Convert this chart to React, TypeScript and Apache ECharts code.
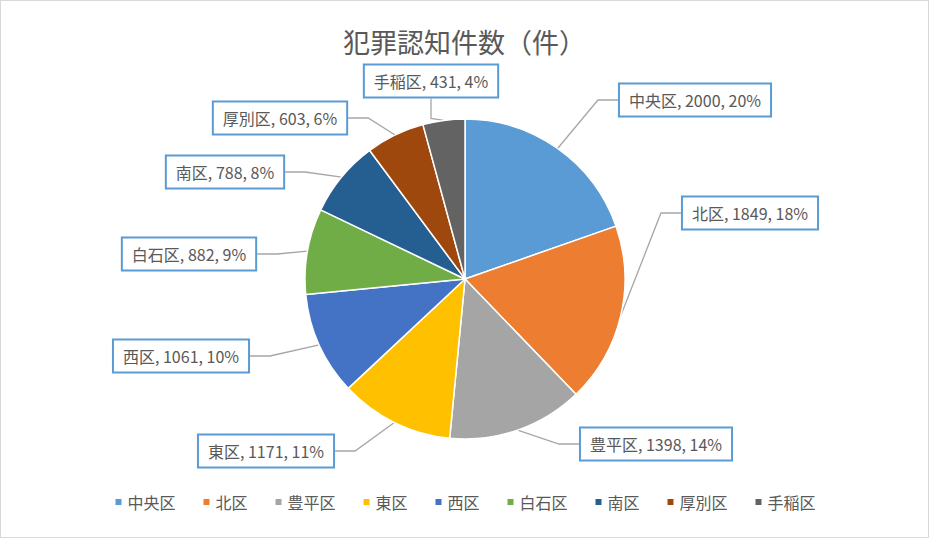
import React, { useEffect, useRef } from "react";
import * as echarts from "echarts";

const categories = ["中央区", "北区", "豊平区", "東区", "西区", "白石区", "南区", "厚別区", "手稲区"];
const values = [2000, 1849, 1398, 1171, 1061, 882, 788, 603, 431];
const colors = ["#5B9BD5", "#ED7D31", "#A5A5A5", "#FFC000", "#4472C4", "#70AD47", "#255E91", "#9E480E", "#636363"];
const labelCenters: [number, number][] = [
  [694, 99], [749, 212], [655, 443], [265, 450], [180, 355], [188, 253], [224, 171], [279, 117], [430, 80],
];

export default function App() {
  const ref = useRef<HTMLDivElement>(null);
  useEffect(() => {
    document.body.style.margin = "0";
    const chart = echarts.init(ref.current!, undefined, { renderer: "svg" });
    const font = "'Noto Sans CJK JP', sans-serif";
    const total = values.reduce((a, b) => a + b, 0);
    chart.setOption({
      animation: false,
      title: {
        text: "犯罪認知件数（件）",
        left: "center",
        top: 22,
        textStyle: { color: "#595959", fontSize: 27, fontWeight: "normal", fontFamily: font },
      },
      legend: {
        bottom: 22,
        left: "center",
        icon: "rect",
        itemWidth: 8,
        itemHeight: 8,
        itemGap: 26,
        textStyle: { color: "#595959", fontSize: 16, fontFamily: font },
        data: categories,
      },
      series: [
        {
          type: "pie",
          center: [464, 278],
          radius: 160,
          startAngle: 90,
          clockwise: true,
          color: colors,
          itemStyle: { borderColor: "#fff", borderWidth: 1.5 },
          data: categories.map((c, i) => ({ name: c, value: values[i] })),
          label: {
            position: "outside",
            formatter: (p: any) => `${p.name}, ${p.value}, ${Math.round((p.value / total) * 100)}%`,
            color: "#595959",
            fontSize: 16,
            fontFamily: font,
            backgroundColor: "#fff",
            borderColor: "#5B9BD5",
            borderWidth: 2,
            padding: [8, 9, 7, 9],
          },
          labelLine: { show: true, lineStyle: { color: "#A6A6A6", width: 1.3 }, length: 20, length2: 20 },
          labelLayout: (params: any) => {
            const c = labelCenters[params.dataIndex];
            return { x: c[0], y: c[1], align: "center", verticalAlign: "middle" };
          },
        },
      ],
    });
    return () => chart.dispose();
  }, []);
  return (
    <div
      ref={ref}
      style={{ position: "absolute", left: 0, top: 0, width: 929, height: 538, border: "1px solid #D9D9D9", boxSizing: "border-box" }}
    />
  );
}
